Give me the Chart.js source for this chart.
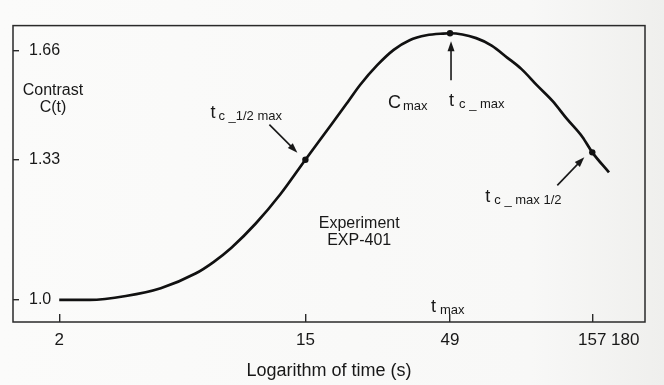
<!DOCTYPE html>
<html>
<head>
<meta charset="utf-8">
<title>Contrast C(t)</title>
<script src="https://cdn.jsdelivr.net/npm/chart.js@4.4.1/dist/chart.umd.min.js"></script>
<style>
  html, body { margin: 0; padding: 0; }
  body { background: linear-gradient(to right, #fbfbfa 0%, #f8f8f7 80%, #efefed 100%); }
  #wrap { width: 664px; height: 385px; }
</style>
</head>
<body>
<div id="wrap"><canvas id="contrastChart" width="664" height="385"></canvas></div>
<script>
const FONT = "'Liberation Sans', Arial, Helvetica, sans-serif";
const INK = "#181818";

// Contrast curve, time in seconds
const times = [2, 2.57, 3.45, 4.59, 6.1, 7.07, 8.19, 9.99, 12.2,
  15, 18.5, 21.2, 23.5, 27, 30.9, 35.2, 40.4, 46.3, 49,
  60.7, 68.9, 78.2, 88, 99.9, 113.3, 127.6, 144.8, 157, 180];
const contrast = [1.0, 1.0, 1.008, 1.024, 1.055, 1.08, 1.112, 1.168, 1.239,
  1.33, 1.427, 1.495, 1.549, 1.612, 1.663, 1.696, 1.713, 1.719, 1.72,
  1.703, 1.677, 1.637, 1.599, 1.547, 1.499, 1.445, 1.393, 1.35, 1.296];

// points marked with a dot (half max, max, falling half max)
const markedTimes = [15, 49, 157];

// axis ticks
const xTicks = [2, 15, 49, 157];
const xEndTick = 180;
const yTicks = [1.0, 1.33, 1.66];
const yTickLabels = ["1.0", "1.33", "1.66"];

// text notes; dx/dy in pixels from the anchor point
const notes = [
  { at: [15, 1.33], main: "t", sub: "c _1/2 max", dx: -95, dy: -42, gap: 3,
    arrow: [-36, -35, -8, -7] },
  { at: [49, 1.72], main: "C", sub: "max", dx: -62, dy: 75, gap: 2 },
  { at: [49, 1.72], main: "t", sub: "c _ max", dx: -1, dy: 73, gap: 5,
    arrow: [1, 47, 1, 8] },
  { at: [157, 1.35], main: "t", sub: "c _ max 1/2", dx: -107, dy: 50, gap: 4,
    arrow: [-35, 33, -8, 5] },
  { at: [49, 1.0], main: "t", sub: "max", dx: -19, dy: 12, gap: 4 },
];
const blockNotes = [
  { at: [23.3, 1.168], lines: ["Experiment", "EXP-401"], size: 16, lineGap: 17 },
  { at: [1.9, 1.53], lines: ["Contrast", "C(t)"], size: 16, lineGap: 17 },
];

function drawSubscripted(ctx, x, y, main, sub, gap) {
  ctx.textAlign = "left";
  ctx.textBaseline = "alphabetic";
  ctx.font = "18px " + FONT;
  ctx.fillText(main, x, y);
  const w = ctx.measureText(main).width;
  ctx.font = "13px " + FONT;
  ctx.fillText(sub, x + w + gap, y + 2);
}

function drawArrow(ctx, x1, y1, x2, y2) {
  const ang = Math.atan2(y2 - y1, x2 - x1);
  const c = Math.cos(ang), s = Math.sin(ang);
  ctx.beginPath();
  ctx.moveTo(x1, y1);
  ctx.lineTo(x2 - 6 * c, y2 - 6 * s);
  ctx.stroke();
  ctx.beginPath();
  ctx.moveTo(x2, y2);
  ctx.lineTo(x2 - 10 * c + 3.5 * s, y2 - 10 * s - 3.5 * c);
  ctx.lineTo(x2 - 10 * c - 3.5 * s, y2 - 10 * s + 3.5 * c);
  ctx.closePath();
  ctx.fill();
}

// frame around the plot area, the 180 end label and the notes
const notesPlugin = {
  id: "notes",
  afterDraw(chart) {
    const { ctx, chartArea, scales } = chart;
    const x = scales.x, y = scales.y;
    ctx.save();
    ctx.strokeStyle = "#2a2a2a";
    ctx.lineWidth = 1.5;
    ctx.strokeRect(chartArea.left, chartArea.top,
      chartArea.right - chartArea.left, chartArea.bottom - chartArea.top);

    ctx.fillStyle = INK;
    ctx.font = "17px " + FONT;
    ctx.textAlign = "left";
    ctx.textBaseline = "middle";
    ctx.fillText(String(xEndTick), x.getPixelForValue(xEndTick) + 2, chartArea.bottom + 18);

    ctx.strokeStyle = INK;
    ctx.lineWidth = 1.6;
    notes.forEach((n) => {
      const px = x.getPixelForValue(n.at[0]);
      const py = y.getPixelForValue(n.at[1]);
      drawSubscripted(ctx, px + n.dx, py + n.dy, n.main, n.sub, n.gap);
      if (n.arrow) {
        const a = n.arrow;
        drawArrow(ctx, px + a[0], py + a[1], px + a[2], py + a[3]);
      }
    });

    ctx.textAlign = "center";
    ctx.textBaseline = "middle";
    blockNotes.forEach((b) => {
      const px = x.getPixelForValue(b.at[0]);
      const py = y.getPixelForValue(b.at[1]);
      ctx.font = b.size + "px " + FONT;
      b.lines.forEach((line, i) => ctx.fillText(line, px, py + i * b.lineGap));
    });
    ctx.restore();
  },
};

const ctx = document.getElementById("contrastChart").getContext("2d");
new Chart(ctx, {
  type: "line",
  data: {
    datasets: [
      {
        data: times.map((t, i) => ({ x: t, y: contrast[i] })),
        borderColor: "#111",
        borderWidth: 2.7,
        cubicInterpolationMode: "monotone",
        fill: false,
        pointRadius: (c) => (markedTimes.includes(times[c.dataIndex]) ? 3.2 : 0),
        pointBackgroundColor: "#111",
        pointBorderColor: "#111",
        pointBorderWidth: 0,
      },
    ],
  },
  options: {
    responsive: false,
    animation: false,
    layout: { padding: { left: 13, right: 19, top: 15, bottom: 0 } },
    plugins: {
      legend: { display: false },
      tooltip: { enabled: false },
    },
    scales: {
      x: {
        type: "logarithmic",
        min: 1.37,
        max: 241.7,
        afterBuildTicks: (s) => {
          s.ticks = xTicks.map((v) => ({ value: v }));
        },
        afterFit: (s) => {
          s.height = 63;
        },
        border: { display: false },
        grid: {
          drawOnChartArea: false,
          drawTicks: true,
          tickLength: -8,
          color: "#2a2a2a",
          lineWidth: 1.4,
        },
        ticks: {
          autoSkip: false,
          maxRotation: 0,
          padding: 16,
          color: INK,
          font: { family: FONT, size: 17 },
          callback: (v) => String(v),
        },
        title: {
          display: true,
          text: "Logarithm of time (s)",
          color: INK,
          font: { family: FONT, size: 18 },
          padding: { top: 0, bottom: 3 },
        },
      },
      y: {
        type: "logarithmic",
        min: 0.956,
        max: 1.747,
        afterBuildTicks: (s) => {
          s.ticks = yTicks.map((v) => ({ value: v }));
        },
        afterFit: (s) => {
          s.width = 0;
        },
        border: { display: false },
        grid: {
          drawOnChartArea: false,
          drawTicks: true,
          tickLength: -6,
          color: "#2a2a2a",
          lineWidth: 1.4,
        },
        ticks: {
          mirror: true,
          padding: 16,
          color: INK,
          font: { family: FONT, size: 16 },
          callback: (v) => yTickLabels[yTicks.indexOf(v)],
        },
      },
    },
  },
  plugins: [notesPlugin],
});
</script>
</body>
</html>
